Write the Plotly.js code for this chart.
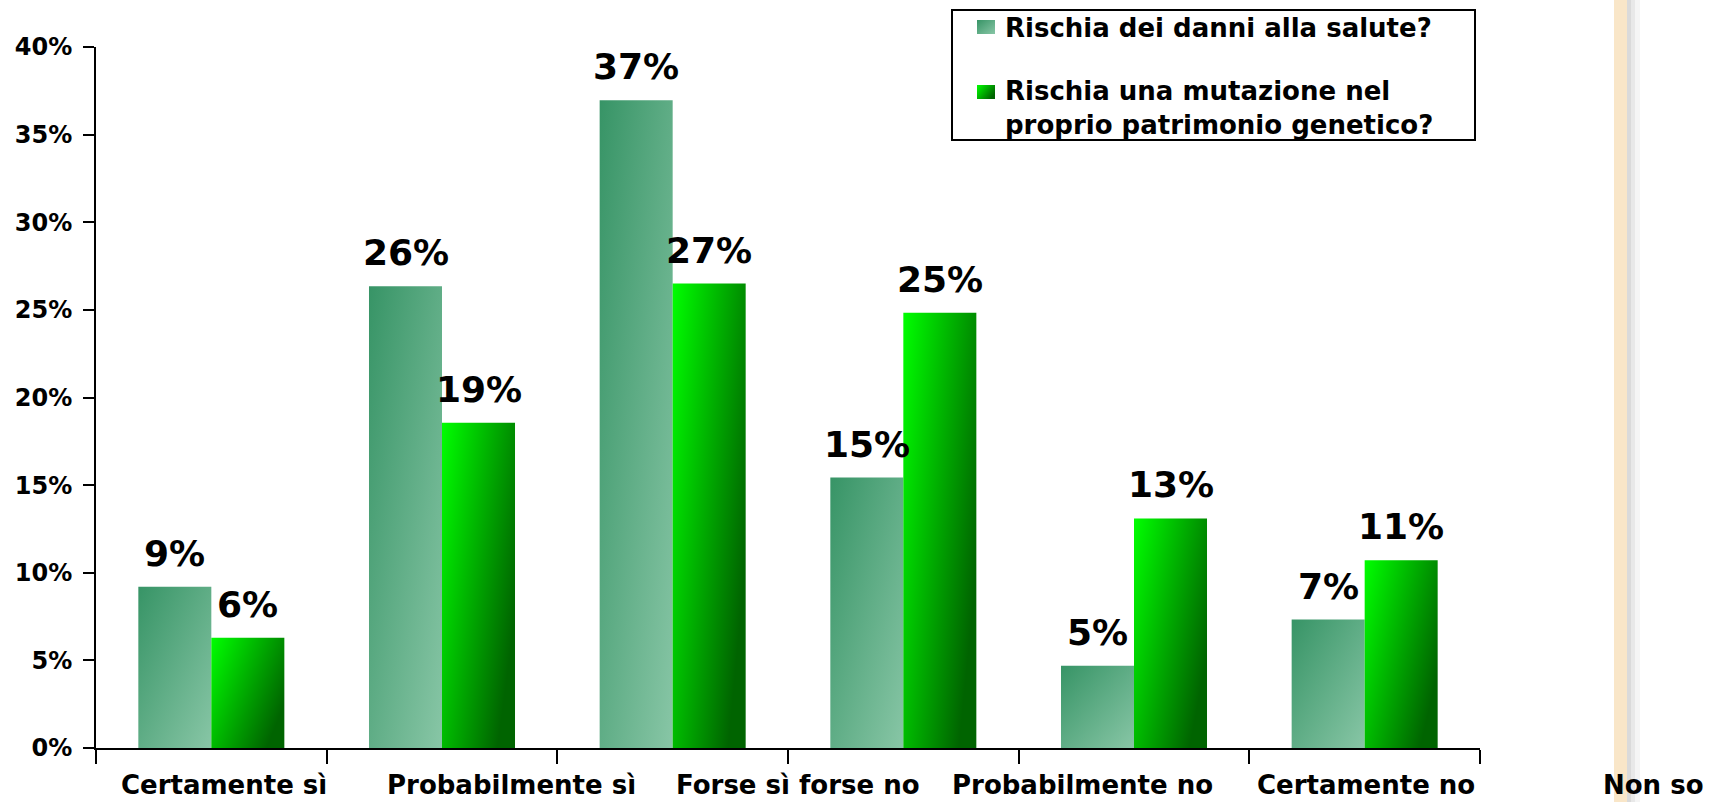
<!DOCTYPE html>
<html>
<head>
<meta charset="utf-8">
<script src="https://cdn.plot.ly/plotly-3.0.1.min.js"></script>
<style>
  html, body { margin: 0; padding: 0; background: #ffffff; }
  #chart { width: 1726px; height: 802px; }
</style>
</head>
<body>
<svg width="0" height="0" style="position:absolute">
  <defs>
    <linearGradient id="grad0" x1="0" y1="0" x2="1" y2="1">
      <stop offset="0" stop-color="#379466"/>
      <stop offset="1" stop-color="#88c6a6"/>
    </linearGradient>
    <linearGradient id="grad1" x1="0" y1="0" x2="1" y2="0.6">
      <stop offset="0" stop-color="#00ff00"/>
      <stop offset="1" stop-color="#006400"/>
    </linearGradient>
  </defs>
</svg>
<div id="chart"></div>
<script>
// ---- data ----
const categories = ['Certamente sì', 'Probabilmente sì', 'Forse sì forse no', 'Probabilmente no', 'Certamente no', 'Non so'];
const seriesNames = ['Rischia dei danni alla salute?', 'Rischia una mutazione nel proprio patrimonio genetico?'];
const legendLines = [['Rischia dei danni alla salute?'], ['Rischia una mutazione nel', 'proprio patrimonio genetico?']];
const rischioSalute = [9.2, 26.35, 36.96, 15.43, 4.69, 7.33];
const rischioMutazione = [6.29, 18.56, 26.5, 24.84, 13.1, 10.72];
const yTickValues = [0, 5, 10, 15, 20, 25, 30, 35, 40];

// ---- layout geometry (pixels of the 1726x802 page) ----
const W = 1726, H = 802;
const M = { l: 96, r: 246, t: 47, b: 54 };
const plotW = W - M.l - M.r, plotH = H - M.t - M.b;
const px2x = px => (px - M.l) / plotW;
const py2y = py => (H - M.b - py) / plotH;
const labelCentersPx = [224, 511, 798, 1082, 1366, 1653.5];

const FONT = 'DejaVu Sans, Liberation Sans, Arial, sans-serif';
const fillColors = ['#5aa985', '#00b000'];
const allSeries = [rischioSalute, rischioMutazione];

const traces = allSeries.map((vals, i) => ({
  type: 'bar',
  name: seriesNames[i],
  x: categories,
  y: vals,
  marker: { color: fillColors[i], line: { width: 0 } },
  hoverinfo: 'x+y',
  showlegend: false
}));

const annotations = [];
// bar value labels
const offsetPx = [-36.5, 36.5];
allSeries.forEach((vals, i) => {
  vals.forEach((v, j) => {
    annotations.push({
      xref: 'x', yref: 'y', x: categories[j], y: v,
      xshift: offsetPx[i], yshift: 11,
      yanchor: 'bottom', xanchor: 'center',
      showarrow: false,
      text: Math.round(v) + '%',
      font: { family: FONT, size: 36, color: '#000000', weight: 'bold' }
    });
  });
});
// category labels
categories.forEach((c, j) => {
  annotations.push({
    xref: 'paper', yref: 'paper', x: px2x(labelCentersPx[j]), y: 0,
    yshift: -37, yanchor: 'middle', xanchor: 'center',
    showarrow: false, text: c,
    font: { family: FONT, size: 26, color: '#000000', weight: 'bold' }
  });
});
// legend text
const legendLineY = [[28], [91, 125]];
legendLines.forEach((lines, i) => {
  lines.forEach((ln, k) => {
    annotations.push({
      xref: 'paper', yref: 'paper', x: px2x(1003), y: py2y(legendLineY[i][k]),
      xanchor: 'left', yanchor: 'middle', showarrow: false, text: ln,
      font: { family: FONT, size: 26, color: '#000000', weight: 'bold' }
    });
  });
});

const fullH = { y0: py2y(H + 2), y1: py2y(-2) };
const shapes = [
  { type: 'rect', xref: 'paper', yref: 'paper', x0: px2x(1614), x1: px2x(1627), ...fullH, fillcolor: '#f9e6c8', line: { width: 0 }, layer: 'below' },
  { type: 'rect', xref: 'paper', yref: 'paper', x0: px2x(1627), x1: px2x(1631), ...fullH, fillcolor: '#dadada', line: { width: 0 }, layer: 'below' },
  { type: 'rect', xref: 'paper', yref: 'paper', x0: px2x(1631), x1: px2x(1635), ...fullH, fillcolor: '#e8e8e8', line: { width: 0 }, layer: 'below' },
  { type: 'rect', xref: 'paper', yref: 'paper', x0: px2x(1635), x1: px2x(1640), ...fullH, fillcolor: '#f5f5f5', line: { width: 0 }, layer: 'below' },
  // legend frame and swatches
  { type: 'rect', xref: 'paper', yref: 'paper', x0: px2x(952), x1: px2x(1475), y0: py2y(140), y1: py2y(10), fillcolor: '#ffffff', line: { color: '#000000', width: 2 }, layer: 'above' },
  { type: 'rect', xref: 'paper', yref: 'paper', x0: px2x(977), x1: px2x(995), y0: py2y(34), y1: py2y(20), fillcolor: fillColors[0], line: { width: 0 }, layer: 'above' },
  { type: 'rect', xref: 'paper', yref: 'paper', x0: px2x(977), x1: px2x(995), y0: py2y(99), y1: py2y(85), fillcolor: fillColors[1], line: { width: 0 }, layer: 'above' }
];
const swatchShapeIndex = [5, 6];

const layout = {
  width: W, height: H,
  margin: M,
  paper_bgcolor: '#ffffff',
  plot_bgcolor: '#ffffff',
  barmode: 'group',
  bargap: 0.367,
  bargroupgap: 0,
  showlegend: false,
  xaxis: {
    type: 'category',
    range: [-0.5, categories.length - 0.5],
    showticklabels: false,
    showline: true, linecolor: '#000000', linewidth: 2,
    ticks: 'outside', tickson: 'boundaries', ticklen: 14, tickwidth: 2, tickcolor: '#000000',
    showgrid: false, zeroline: false, fixedrange: true
  },
  yaxis: {
    range: [0, 40],
    tickvals: yTickValues,
    ticktext: yTickValues.map(v => v + '%'),
    tickfont: { family: FONT, size: 24, color: '#000000', weight: 'bold' },
    showline: true, linecolor: '#000000', linewidth: 2,
    ticks: 'outside', ticklen: 11, tickwidth: 2, tickcolor: '#000000',
    ticklabelstandoff: 6,
    showgrid: false, zeroline: false, fixedrange: true
  },
  annotations: annotations,
  shapes: shapes
};

function applyGradients() {
  const gd = document.getElementById('chart');
  gd.querySelectorAll('.barlayer .trace.bars').forEach((t, i) => {
    t.querySelectorAll('.point path').forEach(p => { p.style.fill = 'url(#grad' + i + ')'; });
  });
  swatchShapeIndex.forEach((idx, i) => {
    gd.querySelectorAll('.shapelayer path[data-index="' + idx + '"]').forEach(p => { p.style.fill = 'url(#grad' + i + ')'; });
  });
}

Plotly.newPlot('chart', traces, layout, { displayModeBar: false, staticPlot: true }).then(gd => {
  applyGradients();
  gd.on('plotly_afterplot', applyGradients);
});
</script>
</body>
</html>
